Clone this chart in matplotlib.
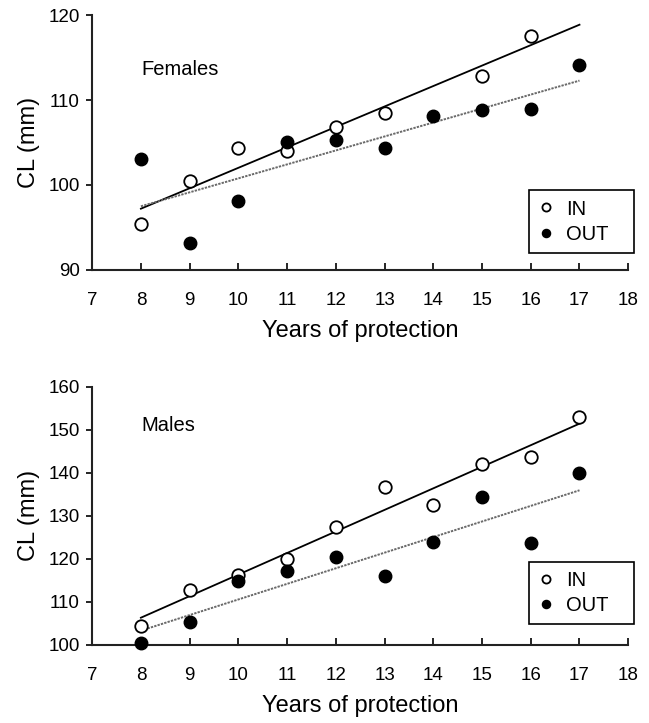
import numpy as np
import matplotlib
matplotlib.use("Agg")
import matplotlib.pyplot as plt

plt.rcParams["font.family"] = ["Liberation Sans", "DejaVu Sans"]

# =========================
# Data
# =========================
fem_in_years = [8, 9, 10, 11, 12, 13, 15, 16]
fem_in_cl = [95.4, 100.4, 104.4, 104.0, 106.8, 108.5, 112.8, 117.5]
fem_out_years = [8, 9, 10, 11, 12, 13, 14, 15, 16, 17]
fem_out_cl = [103.0, 93.2, 98.1, 105.0, 105.3, 104.3, 108.1, 108.8, 108.9, 114.1]

male_in_years = [8, 9, 10, 11, 12, 13, 14, 15, 16, 17]
male_in_cl = [104.5, 112.8, 116.3, 120.0, 127.5, 136.6, 132.5, 142.0, 143.7, 152.9]
male_out_years = [8, 9, 10, 11, 12, 13, 14, 15, 16, 17]
male_out_cl = [100.4, 105.3, 114.9, 117.2, 120.5, 116.0, 123.9, 134.5, 123.6, 140.0]

x_ticks = list(range(7, 19))
fem_yticks = [90, 100, 110, 120]
male_yticks = [100, 110, 120, 130, 140, 150, 160]


def trend(ax, xs, ys, span, **kw):
    # least squares line, drawn across the whole sampled period
    k, b = np.polyfit(xs, ys, 1)
    xx = np.array(span)
    ax.plot(xx, k * xx + b, **kw)


def panel(ax, in_x, in_y, out_x, out_y, yticks, label, label_y, leg_y):
    span = [min(in_x + out_x), max(in_x + out_x)]
    trend(ax, in_x, in_y, span, color="black", lw=1.3, zorder=2)
    trend(ax, out_x, out_y, span, color="#6a6a6a", lw=1.4,
          linestyle=(0, (1.2, 0.6)), zorder=2)
    ax.plot(in_x, in_y, "o", ms=9, mfc="white", mec="black", mew=1.3,
            label="IN", zorder=3, clip_on=False)
    ax.plot(out_x, out_y, "o", ms=9, mfc="black", mec="black",
            label="OUT   ", zorder=3, clip_on=False)

    ax.set_xlim(7, 18)
    ax.set_ylim(yticks[0], yticks[-1])
    ax.set_xticks(x_ticks)
    ax.set_yticks(yticks)
    ax.spines["top"].set_visible(False)
    ax.spines["right"].set_visible(False)
    for s in ("left", "bottom"):
        ax.spines[s].set_linewidth(1.5)
        ax.spines[s].set_color("#222222")
    ax.tick_params(axis="x", direction="in", length=5, width=1.2,
                   labelsize=13.5, pad=16)
    ax.tick_params(axis="y", direction="out", length=4, width=1.2,
                   labelsize=13.5, pad=5)
    ax.set_xlabel("Years of protection", fontsize=17, labelpad=8)
    ax.set_ylabel("CL (mm)", fontsize=17, labelpad=6)
    ax.text(8, label_y, label, fontsize=14.5, va="baseline", ha="left")

    leg = ax.legend(loc="lower right", bbox_to_anchor=(1.011, leg_y),
                    borderaxespad=0, fontsize=14.5, markerscale=0.65,
                    handlelength=0.8, handletextpad=0.6, labelspacing=0.3,
                    borderpad=0.45, fancybox=False, framealpha=1)
    leg.get_frame().set_edgecolor("black")
    leg.get_frame().set_linewidth(1.2)


fig = plt.figure(figsize=(6.49, 7.23), dpi=100)
ax1 = fig.add_axes([0.142, 0.627, 0.826, 0.352])
ax2 = fig.add_axes([0.142, 0.108, 0.826, 0.357])

panel(ax1, fem_in_years, fem_in_cl, fem_out_years, fem_out_cl,
      fem_yticks, "Females", 112.9, 0.067)
panel(ax2, male_in_years, male_in_cl, male_out_years, male_out_cl,
      male_yticks, "Males", 149.8, 0.081)

fig.savefig("out.png", dpi=100)
